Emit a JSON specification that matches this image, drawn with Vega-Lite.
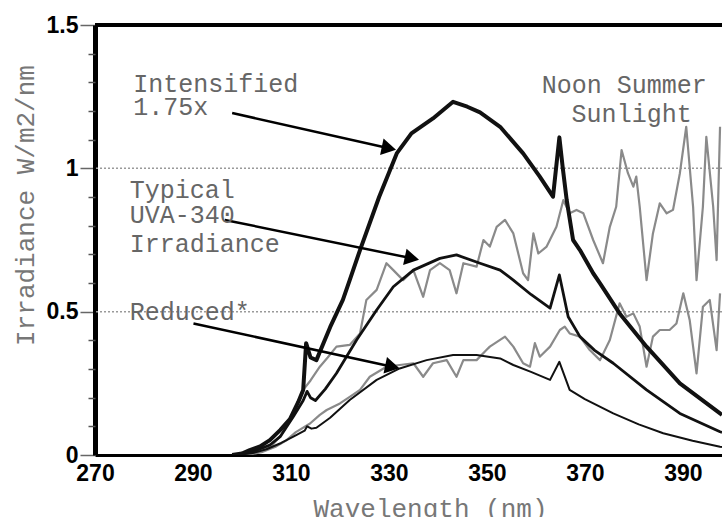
{
  "$schema": "https://vega.github.io/schema/vega-lite/v6.json",
  "width": 627,
  "height": 430,
  "autosize": "none",
  "padding": {"left": 95, "top": 25, "right": 0, "bottom": 62},
  "background": "white",
  "config": {"view": {"stroke": null}},
  "resolve": {"axis": {"y": "independent"}},
  "datasets": {
    "spectra": [
      {"s":"S","nm":300,"v":0},{"s":"S","nm":303,"v":0.01},{"s":"S","nm":306,"v":0.03},{"s":"S","nm":308,"v":0.07},{"s":"S","nm":310,"v":0.13},{"s":"S","nm":312.5,"v":0.227},{"s":"S","nm":314,"v":0.26},{"s":"S","nm":315.9,"v":0.308},{"s":"S","nm":317.5,"v":0.34},{"s":"S","nm":319.3,"v":0.378},{"s":"S","nm":322,"v":0.384},{"s":"S","nm":324.1,"v":0.424},{"s":"S","nm":325.4,"v":0.541},{"s":"S","nm":327.5,"v":0.576},{"s":"S","nm":329.5,"v":0.669},{"s":"S","nm":330.9,"v":0.645},{"s":"S","nm":332.9,"v":0.61},{"s":"S","nm":335,"v":0.645},{"s":"S","nm":337,"v":0.552},{"s":"S","nm":338.4,"v":0.645},{"s":"S","nm":340.4,"v":0.669},{"s":"S","nm":342.4,"v":0.645},{"s":"S","nm":343.8,"v":0.564},{"s":"S","nm":345.2,"v":0.669},{"s":"S","nm":347.9,"v":0.657},{"s":"S","nm":349.3,"v":0.75},{"s":"S","nm":350.6,"v":0.727},{"s":"S","nm":352,"v":0.796},{"s":"S","nm":353.7,"v":0.82},{"s":"S","nm":355.4,"v":0.773},{"s":"S","nm":357.4,"v":0.634},{"s":"S","nm":358.4,"v":0.61},{"s":"S","nm":359.5,"v":0.773},{"s":"S","nm":360.5,"v":0.703},{"s":"S","nm":362.2,"v":0.727},{"s":"S","nm":364.2,"v":0.796},{"s":"S","nm":365.6,"v":0.889},{"s":"S","nm":366.9,"v":0.843},{"s":"S","nm":368.3,"v":0.855},{"s":"S","nm":369.7,"v":0.843},{"s":"S","nm":371.7,"v":0.75},{"s":"S","nm":373.7,"v":0.669},{"s":"S","nm":375.1,"v":0.796},{"s":"S","nm":376.4,"v":0.866},{"s":"S","nm":377.5,"v":1.064},{"s":"S","nm":378.8,"v":0.983},{"s":"S","nm":379.9,"v":0.936},{"s":"S","nm":380.5,"v":0.971},{"s":"S","nm":381.2,"v":0.866},{"s":"S","nm":382.6,"v":0.61},{"s":"S","nm":383.9,"v":0.773},{"s":"S","nm":385.3,"v":0.878},{"s":"S","nm":386.7,"v":0.843},{"s":"S","nm":388,"v":0.855},{"s":"S","nm":389.4,"v":0.983},{"s":"S","nm":390.7,"v":1.145},{"s":"S","nm":392.1,"v":0.866},{"s":"S","nm":392.8,"v":0.61},{"s":"S","nm":394.1,"v":0.866},{"s":"S","nm":394.8,"v":1.11},{"s":"S","nm":396.2,"v":0.866},{"s":"S","nm":396.9,"v":0.68},{"s":"S","nm":397.6,"v":1.145},
      {"s":"L","nm":301,"v":0},{"s":"L","nm":304,"v":0.01},{"s":"L","nm":307,"v":0.03},{"s":"L","nm":309,"v":0.05},{"s":"L","nm":311,"v":0.08},{"s":"L","nm":313.9,"v":0.11},{"s":"L","nm":315.9,"v":0.14},{"s":"L","nm":317.3,"v":0.157},{"s":"L","nm":320,"v":0.18},{"s":"L","nm":322,"v":0.203},{"s":"L","nm":324.1,"v":0.227},{"s":"L","nm":326.1,"v":0.273},{"s":"L","nm":329.5,"v":0.308},{"s":"L","nm":332.2,"v":0.314},{"s":"L","nm":335,"v":0.32},{"s":"L","nm":337,"v":0.273},{"s":"L","nm":339,"v":0.32},{"s":"L","nm":341.8,"v":0.331},{"s":"L","nm":343.8,"v":0.273},{"s":"L","nm":345.2,"v":0.331},{"s":"L","nm":347.9,"v":0.331},{"s":"L","nm":349.9,"v":0.366},{"s":"L","nm":350.6,"v":0.378},{"s":"L","nm":353.7,"v":0.413},{"s":"L","nm":355.4,"v":0.378},{"s":"L","nm":357.4,"v":0.32},{"s":"L","nm":358.8,"v":0.308},{"s":"L","nm":359.8,"v":0.39},{"s":"L","nm":360.8,"v":0.343},{"s":"L","nm":362.9,"v":0.378},{"s":"L","nm":364.9,"v":0.436},{"s":"L","nm":365.9,"v":0.448},{"s":"L","nm":366.9,"v":0.424},{"s":"L","nm":369,"v":0.413},{"s":"L","nm":371,"v":0.366},{"s":"L","nm":373.1,"v":0.331},{"s":"L","nm":375.1,"v":0.401},{"s":"L","nm":377.1,"v":0.529},{"s":"L","nm":378.5,"v":0.482},{"s":"L","nm":379.9,"v":0.494},{"s":"L","nm":381.2,"v":0.448},{"s":"L","nm":382.6,"v":0.308},{"s":"L","nm":383.9,"v":0.413},{"s":"L","nm":385.3,"v":0.436},{"s":"L","nm":387.3,"v":0.436},{"s":"L","nm":388.7,"v":0.459},{"s":"L","nm":390.1,"v":0.564},{"s":"L","nm":391.4,"v":0.471},{"s":"L","nm":392.8,"v":0.285},{"s":"L","nm":394.1,"v":0.517},{"s":"L","nm":395.5,"v":0.541},{"s":"L","nm":396.9,"v":0.366},{"s":"L","nm":397.6,"v":0.564},
      {"s":"I","nm":298,"v":0},{"s":"I","nm":300,"v":0.005},{"s":"I","nm":301.6,"v":0.017},{"s":"I","nm":303.7,"v":0.03},{"s":"I","nm":305.7,"v":0.052},{"s":"I","nm":307.8,"v":0.087},{"s":"I","nm":309.8,"v":0.125},{"s":"I","nm":311.5,"v":0.185},{"s":"I","nm":312.5,"v":0.227},{"s":"I","nm":313.1,"v":0.39},{"s":"I","nm":314,"v":0.34},{"s":"I","nm":315.2,"v":0.331},{"s":"I","nm":318,"v":0.446},{"s":"I","nm":320.6,"v":0.541},{"s":"I","nm":322,"v":0.61},{"s":"I","nm":324.1,"v":0.715},{"s":"I","nm":328,"v":0.9},{"s":"I","nm":331.6,"v":1.052},{"s":"I","nm":334.6,"v":1.122},{"s":"I","nm":339,"v":1.174},{"s":"I","nm":343.1,"v":1.232},{"s":"I","nm":346,"v":1.215},{"s":"I","nm":348.6,"v":1.195},{"s":"I","nm":352.7,"v":1.145},{"s":"I","nm":357.4,"v":1.052},{"s":"I","nm":360.8,"v":0.971},{"s":"I","nm":363.5,"v":0.901},{"s":"I","nm":364.8,"v":1.108},{"s":"I","nm":365.5,"v":1.0},{"s":"I","nm":366.3,"v":0.889},{"s":"I","nm":367.6,"v":0.75},{"s":"I","nm":369,"v":0.715},{"s":"I","nm":371.7,"v":0.634},{"s":"I","nm":373.1,"v":0.599},{"s":"I","nm":377.1,"v":0.494},{"s":"I","nm":382.6,"v":0.378},{"s":"I","nm":389.4,"v":0.25},{"s":"I","nm":397.6,"v":0.145},{"s":"I","nm":398,"v":0.14},
      {"s":"T","nm":298,"v":0},{"s":"T","nm":300,"v":0.003},{"s":"T","nm":302,"v":0.01},{"s":"T","nm":305.7,"v":0.035},{"s":"T","nm":307.8,"v":0.064},{"s":"T","nm":310.5,"v":0.134},{"s":"T","nm":312.5,"v":0.19},{"s":"T","nm":313.3,"v":0.222},{"s":"T","nm":314,"v":0.2},{"s":"T","nm":315,"v":0.19},{"s":"T","nm":317,"v":0.23},{"s":"T","nm":319.3,"v":0.285},{"s":"T","nm":323.4,"v":0.401},{"s":"T","nm":327.5,"v":0.506},{"s":"T","nm":330.9,"v":0.587},{"s":"T","nm":335,"v":0.645},{"s":"T","nm":340.4,"v":0.686},{"s":"T","nm":343.8,"v":0.698},{"s":"T","nm":348.6,"v":0.669},{"s":"T","nm":352.7,"v":0.645},{"s":"T","nm":355.4,"v":0.61},{"s":"T","nm":359,"v":0.56},{"s":"T","nm":362.9,"v":0.512},{"s":"T","nm":364.8,"v":0.628},{"s":"T","nm":366.6,"v":0.482},{"s":"T","nm":369,"v":0.413},{"s":"T","nm":372,"v":0.365},{"s":"T","nm":375.8,"v":0.32},{"s":"T","nm":382.6,"v":0.227},{"s":"T","nm":389.4,"v":0.145},{"s":"T","nm":397.6,"v":0.081},{"s":"T","nm":398,"v":0.079},
      {"s":"R","nm":298,"v":0},{"s":"R","nm":302,"v":0.006},{"s":"R","nm":305,"v":0.02},{"s":"R","nm":308,"v":0.042},{"s":"R","nm":310.5,"v":0.064},{"s":"R","nm":312.8,"v":0.085},{"s":"R","nm":313.3,"v":0.1},{"s":"R","nm":314.2,"v":0.092},{"s":"R","nm":315.2,"v":0.095},{"s":"R","nm":318,"v":0.13},{"s":"R","nm":322,"v":0.192},{"s":"R","nm":327.5,"v":0.262},{"s":"R","nm":332.2,"v":0.302},{"s":"R","nm":337.7,"v":0.331},{"s":"R","nm":343.1,"v":0.349},{"s":"R","nm":347.9,"v":0.349},{"s":"R","nm":352.7,"v":0.337},{"s":"R","nm":355.4,"v":0.314},{"s":"R","nm":359,"v":0.29},{"s":"R","nm":362.9,"v":0.262},{"s":"R","nm":364.8,"v":0.325},{"s":"R","nm":366.9,"v":0.227},{"s":"R","nm":370,"v":0.195},{"s":"R","nm":375.8,"v":0.145},{"s":"R","nm":381,"v":0.107},{"s":"R","nm":386,"v":0.076},{"s":"R","nm":392,"v":0.05},{"s":"R","nm":397.6,"v":0.029},{"s":"R","nm":398,"v":0.028}
    ],
    "grid": [{"v": 0.5}, {"v": 1.0}],
    "frame": [{"v": 1.5}],
    "arrows": [
      {"nm": 298.0, "v": 1.193, "nm2": 330.0, "v2": 1.070},
      {"nm": 296.5, "v": 0.820, "nm2": 334.7, "v2": 0.686},
      {"nm": 290.1, "v": 0.459, "nm2": 330.7, "v2": 0.308}
    ],
    "labels": [
      {"t": "Intensified", "nm": 277.8, "v": 1.267},
      {"t": "1.75x", "nm": 277.8, "v": 1.186},
      {"t": "Typical", "nm": 277.1, "v": 0.896},
      {"t": "UVA-340", "nm": 277.1, "v": 0.809},
      {"t": "Irradiance", "nm": 277.1, "v": 0.708},
      {"t": "Reduced*", "nm": 277.1, "v": 0.471},
      {"t": "Noon Summer", "nm": 361.2, "v": 1.263},
      {"t": "Sunlight", "nm": 367.3, "v": 1.161}
    ]
  },
  "layer": [
    {
      "data": {"name": "grid"},
      "mark": {"type": "rule", "color": "#9a9a9a", "strokeWidth": 1.5, "strokeDash": [2, 2]},
      "encoding": {"y": {"field": "v", "type": "quantitative", "axis": null}}
    },
    {
      "data": {"name": "spectra"},
      "transform": [{"filter": "datum.s == 'S' || datum.s == 'L'"}],
      "mark": {"type": "line", "clip": true, "strokeJoin": "round", "color": "#8a8a8a", "strokeWidth": 2.2},
      "encoding": {
        "x": {"field": "nm", "type": "quantitative"},
        "y": {"field": "v", "type": "quantitative", "axis": null},
        "detail": {"field": "s", "type": "nominal"}
      }
    },
    {
      "data": {"name": "spectra"},
      "transform": [{"filter": "datum.s == 'R'"}],
      "mark": {"type": "line", "clip": true, "strokeJoin": "round", "color": "#111", "strokeWidth": 2},
      "encoding": {
        "x": {"field": "nm", "type": "quantitative"},
        "y": {"field": "v", "type": "quantitative", "axis": null}
      }
    },
    {
      "data": {"name": "spectra"},
      "transform": [{"filter": "datum.s == 'T'"}],
      "mark": {"type": "line", "clip": true, "strokeJoin": "round", "color": "#111", "strokeWidth": 2.8},
      "encoding": {
        "x": {"field": "nm", "type": "quantitative"},
        "y": {"field": "v", "type": "quantitative", "axis": null}
      }
    },
    {
      "data": {"name": "spectra"},
      "transform": [{"filter": "datum.s == 'I'"}],
      "mark": {"type": "line", "clip": true, "strokeJoin": "round", "color": "#111", "strokeWidth": 4},
      "encoding": {
        "x": {
          "field": "nm", "type": "quantitative",
          "scale": {"domain": [270, 398], "nice": false, "zero": false},
          "axis": {
            "values": [270, 290, 310, 330, 350, 370, 390], "format": "d",
            "ticks": false, "grid": false, "labelPadding": 7, "labelFlush": false,
            "labelFont": "Liberation Sans", "labelFontWeight": "bold", "labelFontSize": 23, "labelColor": "#000",
            "domainColor": "#000", "domainWidth": 3,
            "title": "Wavelength (nm)", "titleFont": "Liberation Mono", "titleFontSize": 26, "titleFontWeight": "normal",
            "titleColor": "#777", "titleX": 335, "titleY": 61, "titleBaseline": "alphabetic", "titleAlign": "center"
          }
        },
        "y": {
          "field": "v", "type": "quantitative",
          "scale": {"domain": [0, 1.5], "nice": false, "zero": true},
          "axis": {
            "orient": "left",
            "values": [0, 0.5, 1, 1.5], "format": "~g",
            "tickSize": 15, "tickColor": "#666", "tickWidth": 1.5,
            "grid": false, "labelPadding": 2, "labelFlush": false, "labelOverlap": false,
            "labelFont": "Liberation Sans", "labelFontWeight": "bold", "labelFontSize": 23, "labelColor": "#000",
            "domainColor": "#000", "domainWidth": 5,
            "title": "Irradiance W/m2/nm", "titleFont": "Liberation Mono", "titleFontSize": 26, "titleFontWeight": "normal",
            "titleColor": "#777", "titleAngle": -90, "titleX": -62, "titleY": 180, "titleBaseline": "alphabetic", "titleAlign": "center"
          }
        }
      }
    },
    {
      "data": {"name": "frame"},
      "mark": {"type": "rule", "color": "#000", "strokeWidth": 4},
      "encoding": {
        "y": {
          "field": "v", "type": "quantitative",
          "axis": {
            "orient": "left", "values": [0.1, 0.2, 0.3, 0.4, 0.6, 0.7, 0.8, 0.9, 1.1, 1.2, 1.3, 1.4],
            "labels": false, "domain": false, "grid": false, "title": null,
            "tickSize": 7, "tickColor": "#555", "tickWidth": 1.5
          }
        }
      }
    },
    {
      "data": {"name": "arrows"},
      "mark": {"type": "rule", "color": "#000", "strokeWidth": 2.5},
      "encoding": {
        "x": {"field": "nm", "type": "quantitative"},
        "y": {"field": "v", "type": "quantitative", "axis": null},
        "x2": {"field": "nm2"},
        "y2": {"field": "v2"}
      }
    },
    {
      "data": {"name": "arrows"},
      "mark": {"type": "point", "shape": "triangle-right", "filled": true, "color": "#000", "opacity": 1, "size": 280, "angle": 12},
      "encoding": {
        "x": {"field": "nm2", "type": "quantitative"},
        "y": {"field": "v2", "type": "quantitative", "axis": null}
      }
    },
    {
      "data": {"name": "labels"},
      "mark": {"type": "text", "align": "left", "baseline": "alphabetic", "font": "Liberation Mono", "fontSize": 25, "color": "#666"},
      "encoding": {
        "x": {"field": "nm", "type": "quantitative"},
        "y": {"field": "v", "type": "quantitative", "axis": null},
        "text": {"field": "t"}
      }
    }
  ]
}
